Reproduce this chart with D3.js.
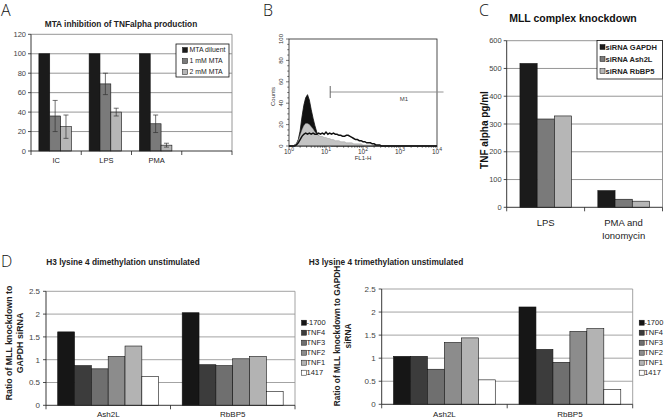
<!DOCTYPE html>
<html><head><meta charset="utf-8">
<script src="https://cdn.jsdelivr.net/npm/d3@7"></script>
<style>body{margin:0;background:#fff}svg{display:block;font-family:"Liberation Sans",Arial,sans-serif}</style>
</head><body><svg id="c" width="664" height="420"></svg>
<script>
// ---------- Panel A data ----------
const aCats = ["IC", "LPS", "PMA", ""];
const aSeries = ["MTA diluent", "1 mM MTA", "2 mM MTA"];
const aDiluent = [100, 100, 100];
const a1mM = [36, 69, 28];
const a2mM = [25, 40, 6];
const a1mMErr = [16, 11, 9];
const a2mMErr = [12, 4, 2];
const aTicks = [0, 20, 40, 60, 80, 100, 120];

// ---------- Panel B data (log10 FL1-H, counts) ----------
const bLog = [0,0.05,0.1,0.15,0.2,0.25,0.3,0.35,0.4,0.45,0.5,0.55,0.6,0.65,0.7,0.75,0.8,0.85,0.9,0.95,1,1.05,1.1,1.15,1.2,1.25,1.3,1.35,1.4,1.45,1.5,1.55,1.6,1.65,1.7,1.75,1.8,1.85,1.9,1.95,2,2.05,2.1,2.15,2.2,2.25,2.3,2.35,2.4,2.45,2.5,2.6,2.8,3,3.5,4];
const bBlack = [0,0,0,1,2,6,14,27,38,45,48,43,34,26,19,13,9,6,4,3,2,1,1,0,0,0,0,0,0,0,0,0,0,0,0,0,0,0,0,0,0,0,0,0,0,0,0,0,0,0,0,0,0,0,0,0];
const bGray = [0,0,0,1,2,5,10,15,19,21,21,20,18,16,13,11,10,9,9,8,8,7,7,6,6,5,5,5,4,4,4,3,3,3,3,2,2,2,2,2,1,1,1,1,1,1,0,0,0,0,0,0,0,0,0,0];
const bLine = [0,0,0,0,1,3,6,9,11,12,11,12,11,12,11,11,12,11,12,11,13,11,12,11,12,11,11,10,10,9,9,10,10,9,8,7,6,6,5,5,4,4,3,3,3,2,2,1,1,1,0,0,0,0,0,0];
const bYTicks = [0, 20, 40, 60, 80, 100];
const bXTicks = [1, 10, 100, 1000, 10000];
const bGate = [13, 15000];

// ---------- Panel C data ----------
const cCats = ["LPS", "PMA and|Ionomycin"];
const cSeries = ["siRNA GAPDH", "siRNA Ash2L", "siRNA RbBP5"];
const cGAPDH = [518, 60];
const cAsh2L = [318, 29];
const cRbBP5 = [329, 22];
const cTicks = [0, 100, 200, 300, 400, 500, 600];

// ---------- Panel D data ----------
const dCats = ["Ash2L", "RbBP5"];
const dSeries = ["-1700", "TNF4", "TNF3", "TNF2", "TNF1", "1417"];
const dDiAsh2L = [1.61, 0.87, 0.80, 1.07, 1.30, 0.63];
const dDiRbBP5 = [2.03, 0.89, 0.87, 1.02, 1.07, 0.30];
const dTriAsh2L = [1.04, 1.04, 0.76, 1.34, 1.44, 0.53];
const dTriRbBP5 = [2.11, 1.19, 0.91, 1.58, 1.64, 0.32];
const dTicks = [0, 0.5, 1, 1.5, 2, 2.5];

// ---------- drawing ----------
const svg = d3.select("#c");
svg.append("rect").attr("width", 664).attr("height", 420).attr("fill", "#fff");

function letter(t, x, y) {
  svg.append("text").attr("x", x).attr("y", y).attr("font-size", 16)
    .attr("font-family", "'Open Sans','Liberation Sans',sans-serif").attr("font-weight", 300)
    .attr("fill", "#111").text(t);
}
letter("A", 1, 16); letter("B", 263, 16); letter("C", 479, 16); letter("D", 1, 267);

function gridBars(o) {
  const g = svg.append("g");
  const y = d3.scaleLinear().domain(o.yDomain).range([o.bottom, o.top]);
  const x0 = d3.scaleBand().domain(o.cats).range([o.left, o.right]);
  const bw = x0.bandwidth();
  const x1 = d3.scaleBand().domain(o.series).range([bw * o.gs, bw * o.ge]);
  g.selectAll(".gl").data(o.ticks.filter(t => t > 0)).join("line")
    .attr("x1", o.left).attr("x2", o.right).attr("y1", d => y(d)).attr("y2", d => y(d))
    .attr("stroke", o.gridColor || "#8a8a8a").attr("stroke-width", 0.9);
  g.append("line").attr("x1", o.right).attr("x2", o.right).attr("y1", o.top).attr("y2", o.bottom)
    .attr("stroke", o.gridColor || "#8a8a8a").attr("stroke-width", 0.9);
  o.values.forEach((vals, si) => {
    g.selectAll(null).data(vals).join("rect")
      .attr("x", (d, i) => x0(o.cats[i]) + x1(o.series[si]))
      .attr("y", d => y(d)).attr("width", x1.bandwidth()).attr("height", d => y(0) - y(d))
      .attr("fill", o.colors[si]).attr("stroke", "#111").attr("stroke-width", 0.6);
  });
  if (o.errors) {
    o.errors.forEach((errs, si) => {
      if (!errs) return;
      errs.forEach((e, i) => {
        const v = o.values[si][i];
        const cx = x0(o.cats[i]) + x1(o.series[si]) + x1.bandwidth() / 2;
        g.append("line").attr("x1", cx).attr("x2", cx).attr("y1", y(v - e)).attr("y2", y(v + e)).attr("stroke", "#333").attr("stroke-width", 0.7);
        [v - e, v + e].forEach(t => g.append("line").attr("x1", cx - 2.5).attr("x2", cx + 2.5).attr("y1", y(t)).attr("y2", y(t)).attr("stroke", "#333").attr("stroke-width", 0.7));
      });
    });
  }
  g.append("line").attr("x1", o.left).attr("x2", o.left).attr("y1", o.top).attr("y2", o.bottom).attr("stroke", "#222").attr("stroke-width", 0.9);
  g.selectAll(".yt").data(o.ticks).join("line")
    .attr("x1", o.left - 3).attr("x2", o.left).attr("y1", d => y(d)).attr("y2", d => y(d)).attr("stroke", "#222").attr("stroke-width", 0.8);
  g.selectAll(".yl").data(o.ticks).join("text")
    .attr("x", o.left - o.tickGap).attr("y", d => y(d)).attr("dy", "0.35em").attr("text-anchor", "end")
    .attr("font-size", o.tickSize).attr("fill", "#444").text(d => d);
  g.append("line").attr("x1", o.left).attr("x2", o.right).attr("y1", o.bottom).attr("y2", o.bottom).attr("stroke", "#222").attr("stroke-width", 0.9);
  const bounds = o.cats.map(c => x0(c)).concat([o.right]);
  g.selectAll(".xt").data(bounds).join("line")
    .attr("x1", d => d).attr("x2", d => d).attr("y1", o.bottom).attr("y2", o.bottom + 4).attr("stroke", "#222").attr("stroke-width", 0.8);
  o.cats.forEach(c => {
    c.split("|").forEach((line, li) => {
      g.append("text").attr("x", x0(c) + bw / 2).attr("y", o.labelY + li * o.labelLH)
        .attr("text-anchor", "middle").attr("font-size", o.labelSize).attr("fill", "#222").text(line);
    });
  });
  return { x0, x1, y, g };
}

function legend(items, colors, o) {
  const g = svg.append("g");
  if (o.box) g.append("rect").attr("x", o.box[0]).attr("y", o.box[1]).attr("width", o.box[2]).attr("height", o.box[3])
    .attr("fill", "#fff").attr("stroke", "#111").attr("stroke-width", 0.8);
  items.forEach((t, i) => {
    const cy = o.y0 + i * o.dy;
    g.append("rect").attr("x", o.sx).attr("y", cy - o.ss / 2).attr("width", o.ss).attr("height", o.ss)
      .attr("fill", colors[i]).attr("stroke", "#111").attr("stroke-width", 0.5);
    g.append("text").attr("x", o.tx).attr("y", cy).attr("dy", "0.35em").attr("font-size", o.fs)
      .attr("font-weight", o.bold ? "bold" : "normal").attr("fill", "#222").text(t);
  });
}

// ----- Panel A -----
const aColors = ["#1b1b1b", "#7a7a7a", "#b6b6b6"];
gridBars({ cats: aCats, series: aSeries, values: [aDiluent, a1mM, a2mM], errors: [null, a1mMErr, a2mMErr],
  colors: aColors, yDomain: [0, 120], ticks: aTicks, left: 31, right: 232, top: 34.3, bottom: 151,
  gs: 0.157, ge: 0.804, tickGap: 5, tickSize: 7.5, labelY: 163, labelLH: 10, labelSize: 7.5 });
svg.append("text").attr("x", 121).attr("y", 27).attr("text-anchor", "middle").attr("font-size", 8.3)
  .attr("font-weight", "bold").attr("fill", "#222").text("MTA inhibition of TNFalpha production");
legend(aSeries, aColors, { box: [176, 44, 53, 33], sx: 182.5, ss: 5, tx: 189.5, y0: 50, dy: 11, fs: 6.9 });

// ----- Panel B -----
(function () {
  const L = 289, R = 437, T = 39, B = 146;
  const x = d3.scaleLog().domain([1, 10000]).range([L, R]);
  const y = d3.scaleLinear().domain([0, 100]).range([B, T]);
  const g = svg.append("g");
  const xv = d => x(Math.pow(10, d));
  const area = vals => d3.area().x((d, i) => xv(bLog[i])).y0(B).y1(d => y(d))(vals);
  const line = vals => d3.line().x((d, i) => xv(bLog[i])).y(d => y(d))(vals);
  g.append("path").attr("d", area(bBlack)).attr("fill", "#111").attr("stroke", "#111").attr("stroke-width", 0.8);
  g.append("path").attr("d", area(bGray)).attr("fill", "#c4c4c4").attr("stroke", "#888").attr("stroke-width", 0.4);
  g.append("path").attr("d", line(bLine)).attr("fill", "none").attr("stroke", "#111").attr("stroke-width", 1.5);
  g.append("rect").attr("x", L).attr("y", T).attr("width", R - L).attr("height", B - T)
    .attr("fill", "none").attr("stroke", "#222").attr("stroke-width", 0.8);
  const yMinor = d3.range(0, 101, 5);
  g.selectAll(".ym").data(yMinor).join("line").attr("x1", d => L - (d % 20 === 0 ? 3 : 1.8)).attr("x2", L)
    .attr("y1", d => y(d)).attr("y2", d => y(d)).attr("stroke", "#222").attr("stroke-width", 0.6);
  g.selectAll(".yl").data(bYTicks).join("text")
    .attr("transform", d => `translate(${L - 6},${y(d)}) rotate(-90)`).attr("text-anchor", "middle")
    .attr("font-size", 6).attr("fill", "#333").text(d => d);
  g.append("text").attr("transform", `translate(${L - 14},${(T + B) / 2 + 4}) rotate(-90)`).attr("text-anchor", "middle")
    .attr("font-size", 6).attr("fill", "#333").text("Counts");
  const xMinor = [];
  for (let k = 0; k < 4; k++) for (let m = 1; m < 10; m++) xMinor.push(m * Math.pow(10, k));
  xMinor.push(10000);
  g.selectAll(".xm").data(xMinor).join("line").attr("x1", d => x(d)).attr("x2", d => x(d))
    .attr("y1", B).attr("y2", d => B + (bXTicks.includes(d) ? 3 : 1.8)).attr("stroke", "#222").attr("stroke-width", 0.6);
  bXTicks.forEach(t => {
    const tx = g.append("text").attr("x", x(t)).attr("y", 154).attr("text-anchor", "middle").attr("font-size", 6.5).attr("fill", "#333");
    tx.append("tspan").text("10");
    tx.append("tspan").attr("dy", -3).attr("font-size", 5).text(String(Math.round(Math.log10(t))));
  });
  g.append("text").attr("x", 363).attr("y", 160).attr("text-anchor", "middle").attr("font-size", 6).attr("fill", "#333").text("FL1-H");
  g.append("line").attr("x1", x(bGate[0])).attr("x2", x(bGate[1])).attr("y1", 92).attr("y2", 92).attr("stroke", "#888").attr("stroke-width", 0.9);
  g.append("line").attr("x1", x(bGate[0])).attr("x2", x(bGate[0])).attr("y1", 86).attr("y2", 98).attr("stroke", "#555").attr("stroke-width", 0.9);
  g.append("text").attr("x", 404).attr("y", 101).attr("text-anchor", "middle").attr("font-size", 6).attr("fill", "#444").text("M1");
})();

// ----- Panel C -----
const cColors = ["#1b1b1b", "#7a7a7a", "#b6b6b6"];
gridBars({ cats: cCats, series: cSeries, values: [cGAPDH, cAsh2L, cRbBP5], colors: cColors,
  yDomain: [0, 600], ticks: cTicks, left: 506.7, right: 662.5, top: 40.7, bottom: 207.3,
  gs: 0.17, ge: 0.833, tickGap: 5, tickSize: 7.5, labelY: 226, labelLH: 12.5, labelSize: 9.5 });
svg.append("text").attr("x", 573).attr("y", 22).attr("text-anchor", "middle").attr("font-size", 10.5)
  .attr("font-weight", "bold").attr("fill", "#111").text("MLL complex knockdown");
svg.append("text").attr("transform", "translate(488,130) rotate(-90)").attr("text-anchor", "middle")
  .attr("font-size", 10).attr("font-weight", "bold").attr("fill", "#111").text("TNF alpha pg/ml");
legend(cSeries, cColors, { box: [597, 40.5, 65.5, 38.5], sx: 600, ss: 5, tx: 605.5, y0: 47, dy: 12, fs: 7.5, bold: true });

// ----- Panel D -----
const dColors = ["#161616", "#3c3c3c", "#6f6f6f", "#8c8c8c", "#b3b3b3", "#ffffff"];
function dChart(ash, rb, o) {
  const vals = dSeries.map((s, i) => [ash[i], rb[i]]);
  gridBars({ cats: dCats, series: dSeries, values: vals, colors: dColors, yDomain: [0, 2.5], ticks: dTicks,
    left: o.left, right: o.right, top: o.top, bottom: o.bottom, gs: 0.094, ge: 0.905, tickGap: 6, tickSize: 8,
    labelY: 417, labelLH: 10, labelSize: 8, gridColor: "#999" });
  svg.append("text").attr("x", o.titleX).attr("y", 265).attr("text-anchor", "middle").attr("font-size", 8.3)
    .attr("font-weight", "bold").attr("fill", "#222").text(o.title);
  o.ylab.forEach((t, i) => {
    svg.append("text").attr("transform", `translate(${o.ylabX + i * 11},${o.ylabY}) rotate(-90)`).attr("text-anchor", "middle")
      .attr("font-size", o.ylabFs).attr("font-weight", "bold").attr("fill", "#222").text(t);
  });
  legend(dSeries, dColors, { sx: o.right + 6.5, ss: 5, tx: o.right + 11.5, y0: 322.7, dy: 10, fs: 7.5 });
}
dChart(dDiAsh2L, dDiRbBP5, { left: 46, right: 295, top: 291.3, bottom: 405.3, titleX: 123, ylabFs: 8.8,
  title: "H3 lysine 4 dimethylation unstimulated", ylab: ["Ratio  of MLL knockdown to", "GAPDH siRNA"], ylabX: 12, ylabY: 343 });
dChart(dTriAsh2L, dTriRbBP5, { left: 381.7, right: 632.7, top: 289, bottom: 404.3, titleX: 386, ylabFs: 8.3,
  title: "H3 lysine 4 trimethylation unstimulated", ylab: ["Ratio of MLL knockdown to GAPDH", "siRNA"], ylabX: 340, ylabY: 336 });
</script></body></html>
